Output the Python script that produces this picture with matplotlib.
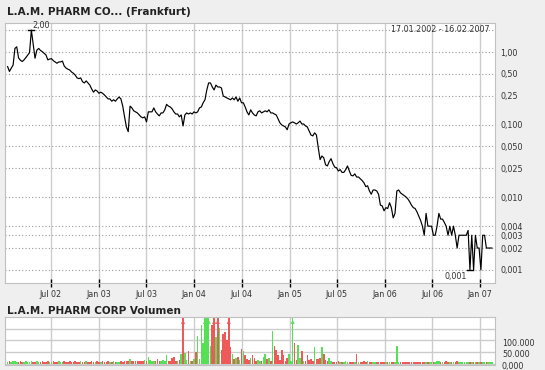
import matplotlib
matplotlib.use('Agg')
import matplotlib.pyplot as plt
import matplotlib.dates as mdates
from matplotlib.transforms import ScaledTranslation
import numpy as np
import pandas as pd

# Wochenkurse (EUR) ab 17.01.2002
start = '2002-01-17'
prices = [
    0.63, 0.54, 0.60, 0.66, 1.12, 1.18, 0.83, 0.77, 0.74, 0.78,
    0.84, 0.91, 0.98, 2.00, 1.29, 0.82, 1.06, 1.12, 1.05, 1.01,
    0.96, 0.91, 0.78, 0.80, 0.81, 0.76, 0.73, 0.70, 0.73, 0.73,
    0.75, 0.64, 0.60, 0.58, 0.565, 0.53, 0.51, 0.48, 0.44, 0.43,
    0.44, 0.39, 0.375, 0.40, 0.375, 0.35, 0.31, 0.28, 0.30, 0.29,
    0.27, 0.28, 0.27, 0.256, 0.24, 0.226, 0.226, 0.21, 0.22, 0.21,
    0.226, 0.24, 0.226, 0.18, 0.128, 0.093, 0.08, 0.18, 0.17, 0.155,
    0.15, 0.145, 0.136, 0.128, 0.124, 0.128, 0.109, 0.15, 0.15, 0.15,
    0.17, 0.15, 0.14, 0.132, 0.145, 0.145, 0.16, 0.19, 0.18, 0.175,
    0.165, 0.15, 0.14, 0.14, 0.128, 0.136, 0.096, 0.136, 0.145, 0.14,
    0.145, 0.14, 0.15, 0.145, 0.15, 0.17, 0.175, 0.20, 0.22, 0.30,
    0.375, 0.375, 0.33, 0.30, 0.35, 0.33, 0.33, 0.32, 0.248, 0.24,
    0.233, 0.226, 0.22, 0.233, 0.22, 0.24, 0.21, 0.233, 0.20, 0.20,
    0.175, 0.15, 0.136, 0.16, 0.145, 0.136, 0.132, 0.15, 0.155, 0.145,
    0.15, 0.155, 0.15, 0.16, 0.145, 0.145, 0.14, 0.136, 0.12, 0.106,
    0.099, 0.096, 0.093, 0.085, 0.102, 0.106, 0.109, 0.106, 0.102, 0.106,
    0.112, 0.102, 0.102, 0.096, 0.093, 0.082, 0.072, 0.070, 0.077, 0.072,
    0.048, 0.033, 0.037, 0.035, 0.028, 0.027, 0.031, 0.034, 0.029, 0.026,
    0.0255, 0.023, 0.024, 0.022, 0.022, 0.024, 0.027, 0.023, 0.020, 0.0197,
    0.021, 0.019, 0.019, 0.018, 0.017, 0.0158, 0.014, 0.0144, 0.0122, 0.011,
    0.0126, 0.0126, 0.0122, 0.011, 0.0078, 0.0076, 0.0065, 0.0072, 0.0070, 0.0084,
    0.0072, 0.0052, 0.006, 0.0122, 0.0126, 0.0115, 0.011, 0.0105, 0.0101, 0.0095,
    0.0087, 0.0078, 0.0072, 0.007, 0.0063, 0.0055, 0.0048, 0.004, 0.003, 0.006,
    0.004, 0.004, 0.004, 0.003, 0.003, 0.004, 0.006, 0.005, 0.005, 0.0045,
    0.004, 0.003, 0.004, 0.003, 0.004, 0.003, 0.002, 0.003, 0.003, 0.003,
    0.003, 0.003, 0.0035, 0.001, 0.003, 0.001, 0.003, 0.002, 0.002, 0.001,
    0.003, 0.003, 0.002, 0.002, 0.002, 0.002,
]

volumes = [
    8000, 9000, 8000, 9000, 9000, 8000, 8000, 9000, 8000, 8000,
    9000, 8000, 8000, 9000, 8000, 8000, 9000, 8000, 8000, 9000,
    8000, 8000, 9000, 8000, 8000, 9000, 8000, 8000, 9000, 8000,
    8000, 9000, 8000, 8000, 9000, 8000, 8000, 9000, 8000, 8000,
    9000, 8000, 8000, 9000, 8000, 8000, 9000, 8000, 8000, 9000,
    8000, 8000, 9000, 8000, 8000, 9000, 8000, 8000, 9000, 8000,
    8000, 8000, 9000, 8000, 10000, 12000, 9000, 19000, 9000, 12000,
    10000, 13000, 9000, 11000, 10000, 14000, 12000, 28000, 15000, 10000,
    12000, 9000, 20000, 10000, 12000, 14000, 10000, 35000, 12000, 10000,
    25000, 30000, 12000, 12000, 15000, 42000, 250000, 45000, 15000, 56000,
    10000, 9000, 18000, 50000, 118000, 20000, 167000, 90000, 260000, 280000,
    260000, 78000, 167000, 280000, 116000, 250000, 154000, 60000, 128000, 135000,
    102000, 260000, 70000, 40000, 20000, 25000, 30000, 15000, 65000, 55000,
    35000, 20000, 15000, 25000, 35000, 25000, 12000, 15000, 10000, 12000,
    30000, 40000, 18000, 22000, 10000, 140000, 75000, 60000, 35000, 15000,
    60000, 35000, 12000, 22000, 40000, 10000, 300000, 87000, 15000, 80000,
    25000, 55000, 12000, 10000, 35000, 15000, 20000, 10000, 70000, 20000,
    20000, 25000, 70000, 40000, 15000, 12000, 22000, 10000, 7000, 8000,
    7000, 9000, 7000, 8000, 7000, 9000, 7000, 8000, 7000, 7000,
    8000, 42000, 7000, 7000, 7000, 12000, 8000, 10000, 8000, 7000,
    8000, 7000, 7000, 7000, 8000, 7000, 7000, 8000, 7000, 7000,
    7000, 8000, 7000, 77000, 7000, 7000, 8000, 7000, 7000, 8000,
    7000, 7000, 8000, 7000, 7000, 7000, 8000, 7000, 7000, 8000,
    7000, 7000, 7000, 8000, 7000, 10000, 10000, 7000, 7000, 7000,
    10000, 7000, 7000, 8000, 7000, 7000, 10000, 7000, 7000, 7000,
    8000, 7000, 7000, 7000, 8000, 7000, 7000, 7000, 8000, 7000,
    7000, 7000, 8000, 7000, 7000, 7000,
]

price_ticks = [2, 1, 0.5, 0.25, 0.1, 0.05, 0.025, 0.01, 0.004, 0.003, 0.002, 0.001]
price_labels = ['', '1,00', '0,50', '0,25', '0,100', '0,050', '0,025', '0,010',
                '0,004', '0,003', '0,002', '0,001']
vol_ticks = [0, 50000, 100000, 150000]
vol_labels = ['0,000', '50.000', '100.000', '']

dates = pd.date_range(start, periods=len(prices), freq='7D')
prices = np.array(prices)
volumes = np.array(volumes)
x0, x1 = pd.Timestamp('2002-01-07'), pd.Timestamp('2007-02-27')

bg = '#efefef'
grid_c = '#cccccc'
green = '#55e055'
red = '#ee5a5a'
fs = 5.8

fig = plt.figure(figsize=(5.45, 3.7), dpi=100, facecolor=bg)
W, H = 545, 370
ax = fig.add_axes([5 / W, 1 - 283 / H, 490 / W, 260.4 / H])
ax2 = fig.add_axes([5 / W, 1 - 365 / H, 490 / W, 48 / H])

# Kurschart
ax.plot(dates, prices, color='black', lw=0.85)
ax.set_yscale('log')
ax.set_ylim(0.00066, 2.54)
ax.set_xlim(x0, x1)
ax.set_yticks(price_ticks)
ax.set_yticklabels(price_labels)
ax.yaxis.set_minor_locator(matplotlib.ticker.NullLocator())
ax.yaxis.tick_right()
ax.tick_params(axis='y', length=0, pad=3.6, labelsize=fs, colors='#333333')
ax.xaxis.set_major_locator(mdates.MonthLocator(bymonth=[1, 7]))
ax.xaxis.set_major_formatter(mdates.DateFormatter('%b %y'))
ax.tick_params(axis='x', direction='inout', length=6, width=1, color='black',
               pad=2, labelsize=fs, labelcolor='#333333')
ax.grid(axis='y', which='major', linestyle=(0, (1, 2)), color='#999999', lw=0.8)
ax.grid(axis='x', which='major', linestyle='-', color=grid_c, lw=1)
for s in ax.spines.values():
    s.set_color('#c0c0c0')

# Hoch / Tief
imax = int(np.argmax(prices))
imin = int(np.argmin(prices))
half = pd.Timedelta(days=11)
ax.plot([dates[imax] - half, dates[imax] + half], [prices[imax]] * 2, color='black', lw=1)
ax.plot([dates[imin] - half, dates[imin] + half], [prices[imin]] * 2, color='black', lw=1)
ax.annotate('2,00', (dates[imax], prices[imax]), xytext=(1, 0), textcoords='offset points',
            ha='left', va='bottom', fontsize=fs, color='#333333')
ax.annotate('0,001', (dates[imin], prices[imin]), xytext=(-2, -1.5), textcoords='offset points',
            ha='right', va='top', fontsize=fs, color='#333333')
ax.text(0.99, 0.972, '17.01.2002 - 16.02.2007', transform=ax.transAxes,
        ha='right', va='center', fontsize=fs, color='#333333')

# Volumen
up = np.r_[True, np.diff(prices) >= 0]
colors = np.where(up, green, red)
ax2.bar(dates, volumes, width=6, color=colors, linewidth=0)
vol_top = 202000
ax2.set_ylim(-6500, vol_top)
ax2.set_xlim(x0, x1)
over = volumes > vol_top
ax2.scatter(mdates.date2num(dates[over]), np.full(over.sum(), 0.9),
            transform=ax2.get_xaxis_transform(), marker='^', s=9,
            c=colors[over], linewidths=0, zorder=3, clip_on=False)
ax2.set_yticks(vol_ticks)
ax2.set_yticklabels(vol_labels)
ax2.yaxis.tick_right()
ax2.tick_params(axis='y', length=0, pad=5, labelsize=fs, colors='#333333')
offset = ScaledTranslation(0, -0.018, fig.dpi_scale_trans)
for lbl in ax2.get_yticklabels():
    lbl.set_transform(lbl.get_transform() + offset)
ax2.xaxis.set_major_locator(mdates.MonthLocator(bymonth=[1, 7]))
ax2.tick_params(axis='x', length=0, labelbottom=False)
ax2.grid(True, color=grid_c, lw=1)
ax2.set_axisbelow(True)
for s in ax2.spines.values():
    s.set_color('#c0c0c0')

fig.text(7 / W, 1 - 12 / H, 'L.A.M. PHARM CO... (Frankfurt)', fontsize=7.5,
         fontweight='bold', ha='left', va='center', color='#222222')
fig.text(7 / W, 1 - 311 / H, 'L.A.M. PHARM CORP Volumen', fontsize=7.5,
         fontweight='bold', ha='left', va='center', color='#222222')

fig.savefig('out.png', dpi=100, facecolor=bg)
